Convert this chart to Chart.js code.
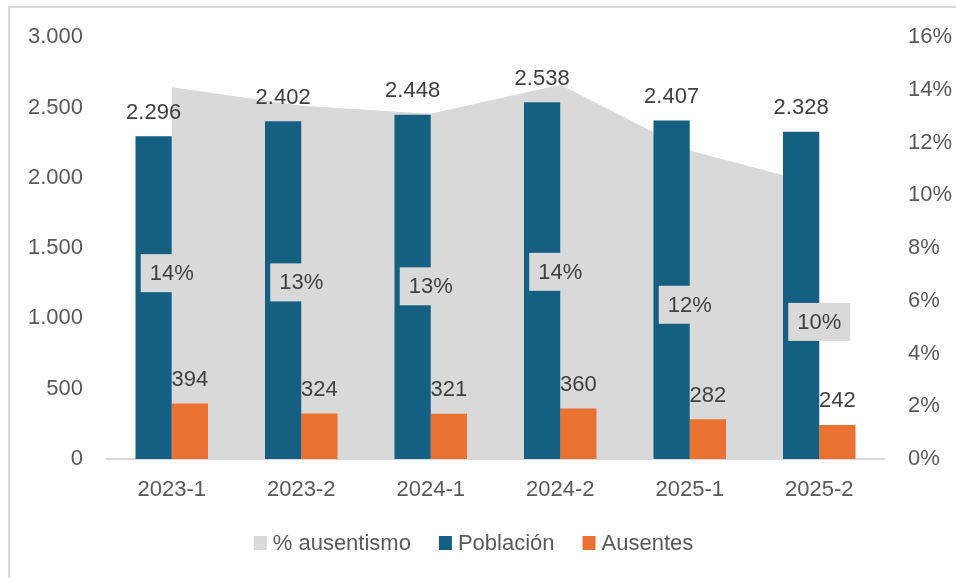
<!DOCTYPE html>
<html><head><meta charset="utf-8">
<script src="https://cdn.jsdelivr.net/npm/chart.js@4.4.1/dist/chart.umd.min.js"></script>
<style>html,body{margin:0;padding:0;background:#fff;overflow:hidden;}#wrap{position:relative;width:956px;height:578px;}</style>
</head><body><div id="wrap"><canvas id="c" width="956" height="578"></canvas></div>
<script>
const categories = ['2023-1','2023-2','2024-1','2024-2','2025-1','2025-2'];
const poblacion = [2296, 2402, 2448, 2538, 2407, 2328];
const ausentes = [394, 324, 321, 360, 282, 242];
const ausentismoPct = [14.1, 13.4, 13.1, 14.2, 11.7, 10.4];
const seriesNames = ['% ausentismo', 'Población', 'Ausentes'];
const seriesColors = ['#d9d9d9', '#156082', '#e97132'];
const leftTicksMax = 3000;
const rightTicksMax = 16;

const FONT = '"Liberation Sans", Arial, sans-serif';
function fmt(v){ return String(v).replace(/\B(?=(\d{3})+(?!\d))/g, '.'); }

const labelPlugin = {
  id: 'customLabels',
  beforeDraw(chart){
    const ctx = chart.ctx;
    ctx.save();
    ctx.strokeStyle = '#d9d9d9';
    ctx.lineWidth = 2;
    ctx.beginPath();
    ctx.moveTo(9, 700); ctx.lineTo(9, 7); ctx.lineTo(1000, 7);
    ctx.stroke();
    ctx.restore();
  },
  afterDatasetsDraw(chart){
    const ctx = chart.ctx;
    ctx.save();
    ctx.font = '22px ' + FONT;
    const y1 = chart.scales.y1;
    const base = y1.getPixelForValue(0);
    chart.getDatasetMeta(0).data.forEach((pt, i) => {
      const cy = (pt.y + base) / 2;
      const txt = Math.round(ausentismoPct[i]) + '%';
      const w = ctx.measureText(txt).width + 18, h = 38;
      ctx.fillStyle = '#d9d9d9';
      ctx.fillRect(pt.x - w/2, cy - h/2, w, h);
      ctx.fillStyle = '#404040';
      ctx.textAlign = 'center';
      ctx.textBaseline = 'middle';
      ctx.fillText(txt, pt.x, cy + 1);
    });
    [1, 2].forEach(di => {
      const vals = chart.data.datasets[di].data;
      chart.getDatasetMeta(di).data.forEach((bar, i) => {
        ctx.fillStyle = '#404040';
        ctx.textAlign = 'center';
        ctx.textBaseline = 'alphabetic';
        ctx.fillText(fmt(vals[i]), bar.x, bar.y - 17.5);
      });
    });
    ctx.restore();
  },
  afterDraw(chart){
    // legend
    const ctx = chart.ctx;
    ctx.save();
    ctx.font = '22px ' + FONT;
    const box = 13, gap = 6, spacing = 28;
    const widths = seriesNames.map(n => box + gap + ctx.measureText(n).width);
    const total = widths.reduce((a, b) => a + b, 0) + spacing * (widths.length - 1);
    const frameCenter = (9 + 938) / 2;
    let x = frameCenter - total / 2;
    const cy = 543;
    seriesNames.forEach((n, i) => {
      ctx.fillStyle = seriesColors[i];
      ctx.fillRect(x, cy - 7, box, 14);
      ctx.fillStyle = '#595959';
      ctx.textAlign = 'left';
      ctx.textBaseline = 'middle';
      ctx.fillText(n, x + box + gap, cy + 1);
      x += widths[i] + spacing;
    });
    ctx.restore();
  }
};

new Chart(document.getElementById('c'), {
  data: {
    labels: categories,
    datasets: [
      { type: 'line', label: seriesNames[0], data: ausentismoPct, yAxisID: 'y1',
        fill: 'origin', backgroundColor: seriesColors[0], borderColor: seriesColors[0], borderWidth: 0,
        pointRadius: 0, tension: 0 },
      { type: 'bar', label: seriesNames[1], data: poblacion, yAxisID: 'y',
        backgroundColor: seriesColors[1], categoryPercentage: 0.56, barPercentage: 1 },
      { type: 'bar', label: seriesNames[2], data: ausentes, yAxisID: 'y',
        backgroundColor: seriesColors[2], categoryPercentage: 0.56, barPercentage: 1 }
    ]
  },
  options: {
    responsive: false,
    animation: false,
    devicePixelRatio: 1,
    layout: { padding: { left: 28, right: 4, top: 35, bottom: 69 } },
    plugins: {
      filler: { drawTime: 'beforeDatasetsDraw' },
      tooltip: { enabled: false },
      legend: { display: false }
    },
    scales: {
      x: {
        grid: { display: false, drawTicks: false },
        border: { display: true, color: '#d9d9d9', width: 2 },
        ticks: { font: { size: 22, family: FONT }, color: '#595959', padding: 18 },
        afterFit: s => { s.height = 50; }
      },
      y: {
        position: 'left', min: 0, max: leftTicksMax,
        grid: { display: false, drawTicks: false },
        border: { display: false },
        ticks: { stepSize: 500, font: { size: 22, family: FONT }, color: '#595959', padding: 24,
          callback: v => fmt(v) },
        afterFit: s => { s.width = 79; }
      },
      y1: {
        position: 'right', min: 0, max: rightTicksMax,
        grid: { display: false, drawTicks: false },
        border: { display: false },
        ticks: { stepSize: 2, font: { size: 22, family: FONT }, color: '#595959', padding: 24,
          callback: v => v + '%' },
        afterFit: s => { s.width = 68; }
      }
    }
  },
  plugins: [labelPlugin]
});
</script>
</body></html>
